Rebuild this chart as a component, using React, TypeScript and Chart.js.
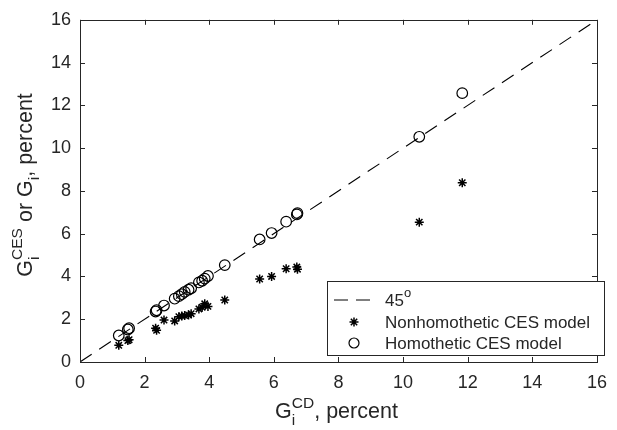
import React, { useEffect, useRef } from "react";
import { Chart, registerables } from "chart.js";

Chart.register(...registerables);

// G_i^CD (percent) for each sector
const cdValues = [1.2, 1.48, 1.52, 2.34, 2.37, 2.6, 2.93, 3.06, 3.15, 3.24, 3.36, 3.44, 3.68, 3.78, 3.86, 3.96, 4.48, 5.56, 5.93, 6.38, 6.71, 6.73, 10.5, 11.83];
// Homothetic CES model G_i
const homotheticValues = [1.24, 1.52, 1.58, 2.36, 2.42, 2.64, 2.96, 3.08, 3.17, 3.28, 3.38, 3.45, 3.72, 3.8, 3.9, 4.02, 4.53, 5.73, 6.03, 6.56, 6.9, 6.96, 10.53, 12.57];
// Nonhomothetic CES model G_i^CES
const nonhomotheticValues = [0.78, 1.0, 1.04, 1.58, 1.48, 1.96, 1.92, 2.12, 2.15, 2.17, 2.2, 2.26, 2.48, 2.56, 2.72, 2.6, 2.9, 3.88, 4.0, 4.36, 4.44, 4.34, 6.54, 8.38];
// 45 degree reference line endpoints
const lineX = [0, 16];
const lineY = [0, 16];
const axisMin = 0;
const axisMax = 16;
const tickStep = 2;
const legendLabels = ["45", "Nonhomothetic CES model", "Homothetic CES model"];

const FONT = "'Liberation Sans', Arial, sans-serif";
const TXT = "#262626";

type Part = { t: string; s: number; dy: number; join?: boolean };

function drawRich(ctx: CanvasRenderingContext2D, parts: Part[], x: number, y: number, align: "center" | "left") {
  const widths: number[] = [];
  const layout: { t: string; s: number; dy: number; x: number }[] = [];
  let cursor = 0;
  for (const p of parts) {
    ctx.font = `${p.s}px ${FONT}`;
    const w = ctx.measureText(p.t).width;
    if (p.join) {
      const prev = layout[layout.length - 1];
      layout.push({ t: p.t, s: p.s, dy: p.dy, x: prev.x });
      const prevW = widths[widths.length - 1];
      if (w > prevW) {
        cursor += w - prevW;
        widths[widths.length - 1] = w;
      }
    } else {
      layout.push({ t: p.t, s: p.s, dy: p.dy, x: cursor });
      widths.push(w);
      cursor += w;
    }
  }
  const x0 = align === "center" ? x - cursor / 2 : x;
  ctx.textAlign = "left";
  ctx.textBaseline = "alphabetic";
  ctx.fillStyle = TXT;
  for (const l of layout) {
    ctx.font = `${l.s}px ${FONT}`;
    ctx.fillText(l.t, x0 + l.x, y + l.dy);
  }
}

const decorPlugin = {
  id: "decor",
  afterDatasetsDraw(chart: any) {
    const { ctx, chartArea } = chart;
    const { left, right, top, bottom } = chartArea;
    const xs = chart.scales.x;
    const ys = chart.scales.y;
    ctx.save();
    // box
    ctx.strokeStyle = TXT;
    ctx.lineWidth = 1;
    ctx.setLineDash([]);
    ctx.strokeRect(Math.round(left) + 0.5, Math.round(top) + 0.5, Math.round(right - left), Math.round(bottom - top));
    // inward ticks on all four sides
    const tl = 5;
    ctx.beginPath();
    for (let v = axisMin; v <= axisMax; v += tickStep) {
      const px = Math.round(xs.getPixelForValue(v)) + 0.5;
      ctx.moveTo(px, bottom);
      ctx.lineTo(px, bottom - tl);
      ctx.moveTo(px, top);
      ctx.lineTo(px, top + tl);
      const py = Math.round(ys.getPixelForValue(v)) + 0.5;
      ctx.moveTo(left, py);
      ctx.lineTo(left + tl, py);
      ctx.moveTo(right, py);
      ctx.lineTo(right - tl, py);
    }
    ctx.stroke();

    // legend
    const lx = 327, ly = 281, lw = 277, lh = 74;
    ctx.fillStyle = "#ffffff";
    ctx.fillRect(lx, ly, lw, lh);
    ctx.strokeStyle = TXT;
    ctx.strokeRect(lx + 0.5, ly + 0.5, lw, lh);
    const rows = [300, 322, 343];
    ctx.strokeStyle = "#000000";
    ctx.setLineDash([14, 8]);
    ctx.beginPath();
    ctx.moveTo(334, rows[0]);
    ctx.lineTo(373, rows[0]);
    ctx.stroke();
    ctx.setLineDash([]);
    const sx = 354, sy = rows[1];
    ctx.lineWidth = 1.5;
    ctx.beginPath();
    const r = 4.5;
    for (let k = 0; k < 4; k++) {
      const a = (k * Math.PI) / 4;
      ctx.moveTo(sx - r * Math.cos(a), sy - r * Math.sin(a));
      ctx.lineTo(sx + r * Math.cos(a), sy + r * Math.sin(a));
    }
    ctx.stroke();
    ctx.lineWidth = 1.2;
    ctx.beginPath();
    ctx.arc(354, rows[2], 5, 0, Math.PI * 2);
    ctx.stroke();
    const lfs = 17;
    drawRich(ctx, [{ t: legendLabels[0], s: lfs, dy: 0 }, { t: "o", s: 13, dy: -9 }], 385, rows[0] + 6, "left");
    drawRich(ctx, [{ t: legendLabels[1], s: lfs, dy: 0 }], 385, rows[1] + 6, "left");
    drawRich(ctx, [{ t: legendLabels[2], s: lfs, dy: 0 }], 385, rows[2] + 6, "left");

    // x title
    const tfs = 21.5, sfs = 15.5;
    drawRich(
      ctx,
      [
        { t: "G", s: tfs, dy: 0 },
        { t: "i", s: sfs, dy: 7 },
        { t: "CD", s: sfs, dy: -10, join: true },
        { t: ", percent", s: tfs, dy: 0 },
      ],
      (left + right) / 2 - 2,
      418,
      "center"
    );
    // y title
    ctx.translate(32, (top + bottom) / 2 - 6);
    ctx.rotate(-Math.PI / 2);
    drawRich(
      ctx,
      [
        { t: "G", s: tfs, dy: 0 },
        { t: "i", s: sfs, dy: 7 },
        { t: "CES", s: sfs, dy: -10, join: true },
        { t: " or G", s: tfs, dy: 0 },
        { t: "i", s: sfs, dy: 7 },
        { t: ", percent", s: tfs, dy: 0 },
      ],
      0,
      0,
      "center"
    );
    ctx.restore();
  },
};

export default function App() {
  const ref = useRef<HTMLCanvasElement | null>(null);
  useEffect(() => {
    if (!ref.current) return;
    const tickFont = { family: FONT, size: 18 };
    const chart = new Chart(ref.current, {
      type: "scatter",
      data: {
        datasets: [
          {
            type: "line",
            label: "45",
            data: lineX.map((x, i) => ({ x, y: lineY[i] })),
            borderColor: "#000000",
            borderWidth: 1.1,
            borderDash: [14, 9],
            pointRadius: 0,
            fill: false,
          } as any,
          {
            label: "Nonhomothetic CES model",
            data: cdValues.map((x, i) => ({ x, y: nonhomotheticValues[i] })),
            pointStyle: "star",
            pointRadius: 4.5,
            borderColor: "#000000",
            borderWidth: 1.5,
            backgroundColor: "#000000",
          },
          {
            label: "Homothetic CES model",
            data: cdValues.map((x, i) => ({ x, y: homotheticValues[i] })),
            pointStyle: "circle",
            pointRadius: 5.3,
            borderColor: "#000000",
            borderWidth: 1.2,
            backgroundColor: "rgba(0,0,0,0)",
          },
        ],
      },
      options: {
        responsive: false,
        animation: false,
        layout: { padding: { top: 15, right: 11, left: 0, bottom: 0 } },
        plugins: { legend: { display: false }, tooltip: { enabled: false } },
        scales: {
          x: {
            type: "linear",
            min: axisMin,
            max: axisMax,
            ticks: { stepSize: tickStep, font: tickFont, color: TXT, padding: 10, maxRotation: 0 },
            grid: { display: false, drawTicks: false },
            border: { display: false },
            afterFit: (s: any) => {
              s.height = 68;
            },
          },
          y: {
            type: "linear",
            min: axisMin,
            max: axisMax,
            ticks: { stepSize: tickStep, font: tickFont, color: TXT, padding: 9 },
            grid: { display: false, drawTicks: false },
            border: { display: false },
            afterFit: (s: any) => {
              s.width = 80;
            },
          },
        },
      },
      plugins: [decorPlugin],
    });
    return () => chart.destroy();
  }, []);
  return (
    <div style={{ position: "absolute", left: 0, top: 0, width: 617, height: 430, background: "#fff" }}>
      <canvas ref={ref} width={617} height={430} style={{ width: 617, height: 430 }} />
    </div>
  );
}
